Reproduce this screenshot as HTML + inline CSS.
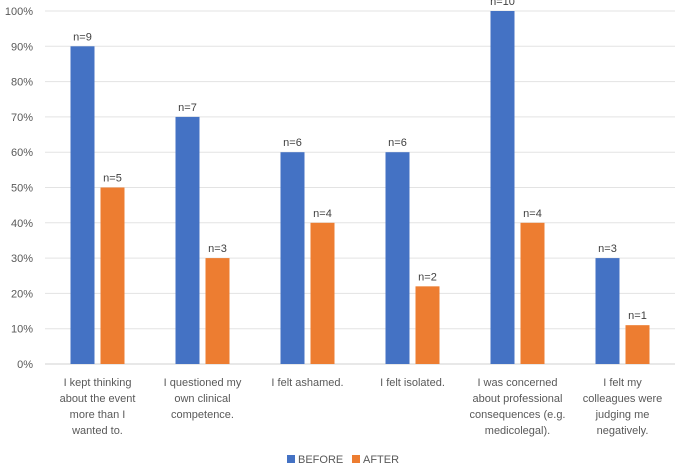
<!DOCTYPE html>
<html><head><meta charset="utf-8"><style>
body{margin:0;background:#fff;}
svg{display:block;font-family:"Liberation Sans",sans-serif;}
</style></head><body>
<svg id="chart" width="680" height="473"></svg>
<script>
const categories=[["I kept thinking","about the event","more than I","wanted to."],["I questioned my","own clinical","competence."],["I felt ashamed."],["I felt isolated."],["I was concerned","about professional","consequences (e.g.","medicolegal)."],["I felt my","colleagues were","judging me","negatively."]];
const beforeVals=[90,70,60,60,100,30];
const afterVals=[50,30,40,22,40,11];
const beforeLabels=["n=9","n=7","n=6","n=6","n=10","n=3"];
const afterLabels=["n=5","n=3","n=4","n=2","n=4","n=1"];
const yTicks=[0,10,20,30,40,50,60,70,80,90,100];
const NS="http://www.w3.org/2000/svg";
const svg=document.getElementById('chart');
const x0=45,x1=675,y0=364,y1=11;
const band=(x1-x0)/categories.length;
const y=v=>y0-(v/100)*(y0-y1);
function el(t,a,txt){const e=document.createElementNS(NS,t);for(const k in a)e.setAttribute(k,a[k]);if(txt!=null)e.textContent=txt;svg.appendChild(e);return e;}
yTicks.forEach(t=>{
  const g=el('line',{x1:x0,x2:x1,y1:y(t),y2:y(t),stroke:t===0?'#d0d0d0':'#e3e3e3','stroke-width':1});
  
  
  const l=el('text',{x:33,y:y(t)+4,'text-anchor':'end','font-size':11,fill:'#595959'},t+'%');
  
  
});
categories.forEach((lines,i)=>{
  const c=x0+band*(i+0.5);
  const bw=24;
  const b=el('rect',{x:c-27,y:y(beforeVals[i]),width:bw,height:y0-y(beforeVals[i]),fill:'#4472c4'});
  
  
  const a=el('rect',{x:c+3,y:y(afterVals[i]),width:bw,height:y0-y(afterVals[i]),fill:'#ed7d31'});
  
  
  const bl=el('text',{x:c-15,y:y(beforeVals[i])-6,'text-anchor':'middle','font-size':11,fill:'#404040'},beforeLabels[i]);
  
  
  const al=el('text',{x:c+15,y:y(afterVals[i])-6,'text-anchor':'middle','font-size':11,fill:'#404040'},afterLabels[i]);
  
  
  lines.forEach((ln,j)=>{
    const t=el('text',{x:c,y:386+j*16,'text-anchor':'middle','font-size':11,fill:'#595959'},ln);
    
    
  });
});
const lg1=el('rect',{x:287,y:455,width:8,height:8,fill:'#4472c4'});


const lt1=el('text',{x:298,y:463,'font-size':11,fill:'#595959'},'BEFORE');


const lg2=el('rect',{x:352,y:455,width:8,height:8,fill:'#ed7d31'});


const lt2=el('text',{x:363,y:463,'font-size':11,fill:'#595959'},'AFTER');


</script>
</body></html>
